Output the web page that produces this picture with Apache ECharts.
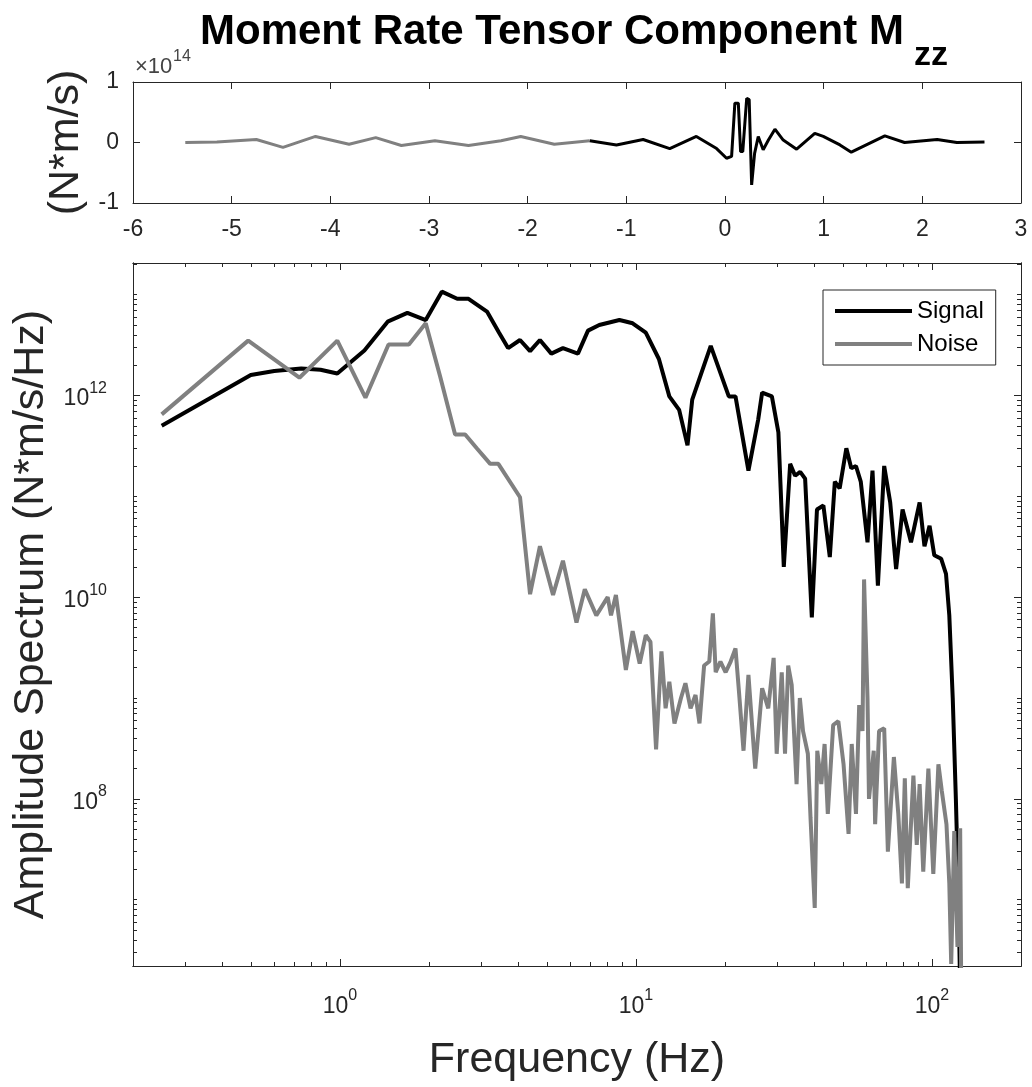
<!DOCTYPE html>
<html>
<head>
<meta charset="utf-8">
<script src="https://cdn.jsdelivr.net/npm/echarts@6/dist/echarts.min.js"></script>
<style>html,body{margin:0;padding:0;background:#fff}#c{width:1032px;height:1087px}</style>
</head>
<body>
<div id="c"></div>
<script>
// ---------- Top panel: moment rate time series (N*m/s) ----------
const timeNoise = [-5.47,-5.15,-4.75,-4.48,-4.15,-3.81,-3.54,-3.28,-2.94,-2.60,-2.27,-2.07,-1.73,-1.37];
const rateNoise = [0,0.01e14,0.05e14,-0.08e14,0.10e14,-0.03e14,0.08e14,-0.05e14,0.03e14,-0.05e14,0.03e14,0.10e14,-0.03e14,0.03e14];
const timeSignal = [-1.37,-1.10,-0.83,-0.56,-0.29,-0.085,0.016,0.067,0.10,0.135,0.158,0.18,0.22,0.245,0.27,0.30,0.337,0.387,0.44,0.506,0.59,0.726,0.91,0.996,1.165,1.28,1.62,1.82,2.15,2.35,2.63];
const rateSignal = [0.03e14,-0.04e14,0.05e14,-0.10e14,0.10e14,-0.10e14,-0.26e14,-0.23e14,0.65e14,0.65e14,-0.15e14,-0.15e14,0.73e14,0.71e14,-0.70e14,-0.18e14,0.10e14,-0.12e14,0.04e14,0.22e14,0.04e14,-0.11e14,0.15e14,0.10e14,-0.04e14,-0.16e14,0.11e14,0,0.05e14,0,0.01e14];
const timeTicks = [-6,-5,-4,-3,-2,-1,0,1,2,3];
const rateTicks = [-1e14,0,1e14];

// ---------- Bottom panel: amplitude spectra (N*m/s/Hz) ----------
const sigFreq = [0.25,0.50,0.60,0.74,0.86,0.98,1.21,1.45,1.69,1.95,2.21,2.49,2.72,3.14,3.45,3.7,4.06,4.39,4.74,5.18,5.67,6.37,6.89,7.52,8.8,9.75,10.8,11.96,12.97,14.0,14.94,15.5,17.9,20.6,21.7,24.0,25.9,26.7,28.8,30.3,31.6,33.2,34.5,35.9,37.3,39.3,40.9,43.0,45.2,47.0,48.8,51.4,53.4,55.4,57.5,60.6,63.0,65.7,69.0,72.3,75.7,79.6,85.0,90.9,94.4,98.2,101.9,107.5,111.6,114.5,117.6,120.5,123.0,124.5];
const sigAmp = [5.0e11,1.6e12,1.75e12,1.85e12,1.8e12,1.65e12,2.8e12,5.4e12,6.6e12,5.6e12,1.07e13,9.1e12,9.1e12,6.8e12,4.2e12,2.95e12,3.55e12,2.75e12,3.55e12,2.6e12,2.95e12,2.6e12,4.4e12,5.0e12,5.6e12,5.2e12,4.2e12,2.3e12,9.8e11,7.2e11,3.2e11,9.1e11,3.1e12,9.8e11,9.8e11,1.8e11,5.8e11,1.07e12,9.8e11,4.3e11,2.0e10,2.1e11,1.6e11,1.75e11,1.5e11,6.3e9,7.4e10,8.1e10,2.5e10,1.4e11,1.2e11,3.0e11,1.9e11,2.0e11,1.4e11,3.5e10,1.8e11,1.3e10,2.0e11,8.7e10,1.9e10,7.4e10,3.5e10,8.7e10,3.2e10,5.1e10,2.6e10,2.4e10,1.7e10,6.6e9,1.0e9,1.0e8,1.05e7,1.5e6];
const noiseFreq = [0.25,0.49,0.73,0.98,1.22,1.46,1.71,1.95,2.18,2.45,2.65,2.90,3.22,3.43,4.06,4.39,4.74,5.25,5.67,6.30,6.72,7.35,8.03,8.24,8.56,9.25,9.75,10.3,10.8,11.2,11.7,12.2,12.6,12.97,13.5,14.2,14.7,15.3,15.9,16.4,17.0,17.7,18.2,18.6,19.3,20.1,20.9,21.7,22.3,23.1,24.0,25.3,26.7,28.0,29.2,29.9,31.1,31.9,32.7,33.6,34.9,35.8,36.7,38.1,38.9,40.2,41.0,42.3,43.4,44.5,46.4,48.3,50.3,52.3,53.6,55.4,56.8,58.3,59.0,60.6,61.3,63.6,64.3,66.3,69.0,71.0,74.4,77.0,79.2,81.0,82.9,86.6,88.9,90.9,93.5,97.3,101.1,105.2,108.0,112.0,114.5,116.2,119.0,122.0,124.6,125.5];
const noiseAmp = [6.5e11,3.5e12,1.5e12,3.5e12,9.5e11,3.2e12,3.2e12,5.2e12,1.55e12,4.1e11,4.1e11,3.0e11,2.1e11,2.1e11,9.8e10,1.07e10,3.2e10,1.05e10,2.3e10,5.6e9,1.2e10,6.6e9,1.0e10,6.6e9,1.05e10,1.9e9,4.6e9,2.2e9,4.2e9,3.6e9,3.1e8,2.9e9,7.9e8,1.45e9,5.6e8,1.0e9,1.4e9,7.9e8,1.07e9,5.6e8,2.1e9,2.3e9,6.9e9,1.8e9,2.3e9,1.8e9,2.3e9,3.1e9,1.15e9,3.0e8,1.7e9,2.0e8,1.25e9,7.9e8,2.5e9,2.8e8,1.8e9,2.8e8,2.1e9,1.35e9,1.4e8,1.0e9,4.7e8,2.8e8,6.5e7,8.3e6,3.0e8,1.4e8,3.5e8,7.1e7,5.4e8,5.9e8,2.2e8,4.5e7,3.5e8,7.1e7,8.5e8,4.7e8,1.5e10,1.0e9,1.0e8,3.0e8,5.6e7,4.7e8,5.0e8,3.0e7,2.6e8,7.1e7,1.45e7,1.6e8,1.3e7,1.7e8,3.5e7,1.4e8,1.9e7,2.0e8,1.8e7,2.2e8,1.2e8,5.6e7,1.45e7,2.3e6,4.8e7,3.4e6,5.1e7,2.0e6];
const freqTicks = [1,10,100];
const ampTicks = [1e8,1e10,1e12];
const seriesNames = ['Signal','Noise'];

const FONT = "'Liberation Sans', Arial, Helvetica, sans-serif";
const AX = '#262626';
const zip = (a,b) => a.map((v,i)=>[v,b[i]]);

function logMinor(min, max, majors){
  const out = [];
  for (let n = -2; n <= 14; n++) {
    for (let k = 1; k <= 9; k++) {
      const v = k * Math.pow(10, n);
      if (v >= min && v <= max && !majors.some(m => Math.abs(m - v) / m < 1e-9)) out.push(v);
    }
  }
  return out;
}
const X_MIN = 0.2, X_MAX = 200, Y_MIN = 2.2e6, Y_MAX = 2.06e13;
const freqMinor = logMinor(X_MIN, X_MAX, freqTicks);
const ampMinor = logMinor(Y_MIN, Y_MAX, ampTicks);

const powLabel = v => '{b|10}{e|' + Math.round(Math.log10(v)) + '}';
const powRich = {
  b: {fontSize: 23, lineHeight: 30, verticalAlign: 'bottom', color: AX, fontFamily: FONT},
  e: {fontSize: 16, lineHeight: 16, verticalAlign: 'top', color: AX, fontFamily: FONT}
};
const lineAx = {show: true, onZero: false, lineStyle: {color: AX, width: 1}};
const nameStyle = {fontSize: 43, color: AX, fontFamily: FONT};

function linAxis(grid, pos, min, max, interval, label, extra) {
  return Object.assign({
    gridIndex: grid, type: 'value', position: pos, min: min, max: max, interval: interval,
    axisLine: lineAx, splitLine: {show: false},
    axisTick: {show: true, inside: true, length: 7, lineStyle: {color: AX}},
    axisLabel: label ? Object.assign({show: true, fontSize: 23, color: AX, fontFamily: FONT, margin: 13}, label) : {show: false}
  }, extra || {});
}
function logAxis(grid, pos, min, max, ticks, len, labels, extra) {
  return Object.assign({
    gridIndex: grid, type: 'log', logBase: 10, position: pos, min: min, max: max,
    axisLine: lineAx, splitLine: {show: false}, minorTick: {show: false},
    axisTick: {show: true, inside: true, length: len, customValues: ticks, lineStyle: {color: AX}},
    axisLabel: labels ? Object.assign({show: true, customValues: ticks, formatter: powLabel, rich: powRich, color: AX, fontFamily: FONT}, labels) : {show: false}
  }, extra || {});
}

const option = {
  animation: false,
  backgroundColor: '#fff',
  grid: [
    {left: 133, top: 82, width: 888, height: 121, containLabel: false},
    {left: 133, top: 263, width: 888, height: 706, containLabel: false}
  ],
  xAxis: [
    linAxis(0, 'bottom', timeTicks[0], timeTicks[timeTicks.length-1], 1, {margin: 15}),
    linAxis(0, 'top', timeTicks[0], timeTicks[timeTicks.length-1], 1, null),
    logAxis(1, 'bottom', X_MIN, X_MAX, freqTicks, 7, {margin: 22},
      {name: 'Frequency (Hz)', nameLocation: 'middle', nameGap: 73, nameTextStyle: nameStyle}),
    logAxis(1, 'bottom', X_MIN, X_MAX, freqMinor, 4, null),
    logAxis(1, 'top', X_MIN, X_MAX, freqTicks, 7, null),
    logAxis(1, 'top', X_MIN, X_MAX, freqMinor, 4, null)
  ],
  yAxis: [
    linAxis(0, 'left', rateTicks[0], rateTicks[2], 1e14, {margin: 14, formatter: v => String(Math.round(v / 1e14))}, {
      name: '(N*m/s)', nameLocation: 'middle', nameGap: 44, nameTextStyle: nameStyle
    }),
    linAxis(0, 'right', rateTicks[0], rateTicks[2], 1e14, null),
    logAxis(1, 'left', Y_MIN, Y_MAX, ampTicks, 7, {margin: 26},
      {name: 'Amplitude Spectrum (N*m/s/Hz)', nameLocation: 'middle', nameGap: 73, nameTextStyle: nameStyle}),
    logAxis(1, 'left', Y_MIN, Y_MAX, ampMinor, 4, null),
    logAxis(1, 'right', Y_MIN, Y_MAX, ampTicks, 7, null),
    logAxis(1, 'right', Y_MIN, Y_MAX, ampMinor, 4, null)
  ],
  legend: {
    data: seriesNames, orient: 'vertical', left: 823, top: 290,
    icon: 'rect', itemWidth: 77, itemHeight: 4, itemGap: 9, padding: [9, 12, 9, 12],
    borderColor: AX, borderWidth: 1, backgroundColor: '#fff', borderRadius: 0,
    textStyle: {fontSize: 24, color: '#000', fontFamily: FONT}
  },
  graphic: [
    {type: 'text', left: 200, top: 11, style: {text: 'Moment Rate Tensor Component M', font: "bold 42px " + FONT, fill: '#000'}},
    {type: 'text', left: 914, top: 39, style: {text: 'zz', font: "bold 34px " + FONT, fill: '#000'}},
    {type: 'text', left: 135, top: 56, style: {text: '\u00d710', font: "22px " + FONT, fill: '#444'}},
    {type: 'text', left: 173, top: 49, style: {text: '14', font: "16px " + FONT, fill: '#444'}}
  ],
  series: [
    {type: 'line', xAxisIndex: 0, yAxisIndex: 0, data: zip(timeNoise, rateNoise), symbol: 'none', silent: true,
     lineStyle: {color: '#808080', width: 3}, itemStyle: {color: '#808080'}},
    {type: 'line', xAxisIndex: 0, yAxisIndex: 0, data: zip(timeSignal, rateSignal), symbol: 'none', silent: true,
     lineStyle: {color: '#000', width: 3}, itemStyle: {color: '#000'}},
    {name: seriesNames[0], type: 'line', xAxisIndex: 2, yAxisIndex: 2, data: zip(sigFreq, sigAmp), symbol: 'none', clip: true,
     lineStyle: {color: '#000', width: 4}, itemStyle: {color: '#000'}},
    {name: seriesNames[1], type: 'line', xAxisIndex: 2, yAxisIndex: 2, data: zip(noiseFreq, noiseAmp), symbol: 'none', clip: true,
     lineStyle: {color: '#808080', width: 4}, itemStyle: {color: '#808080'}}
  ]
};
const chart = echarts.init(document.getElementById('c'), null, {renderer: 'canvas'});
chart.setOption(option);
</script>
</body>
</html>
